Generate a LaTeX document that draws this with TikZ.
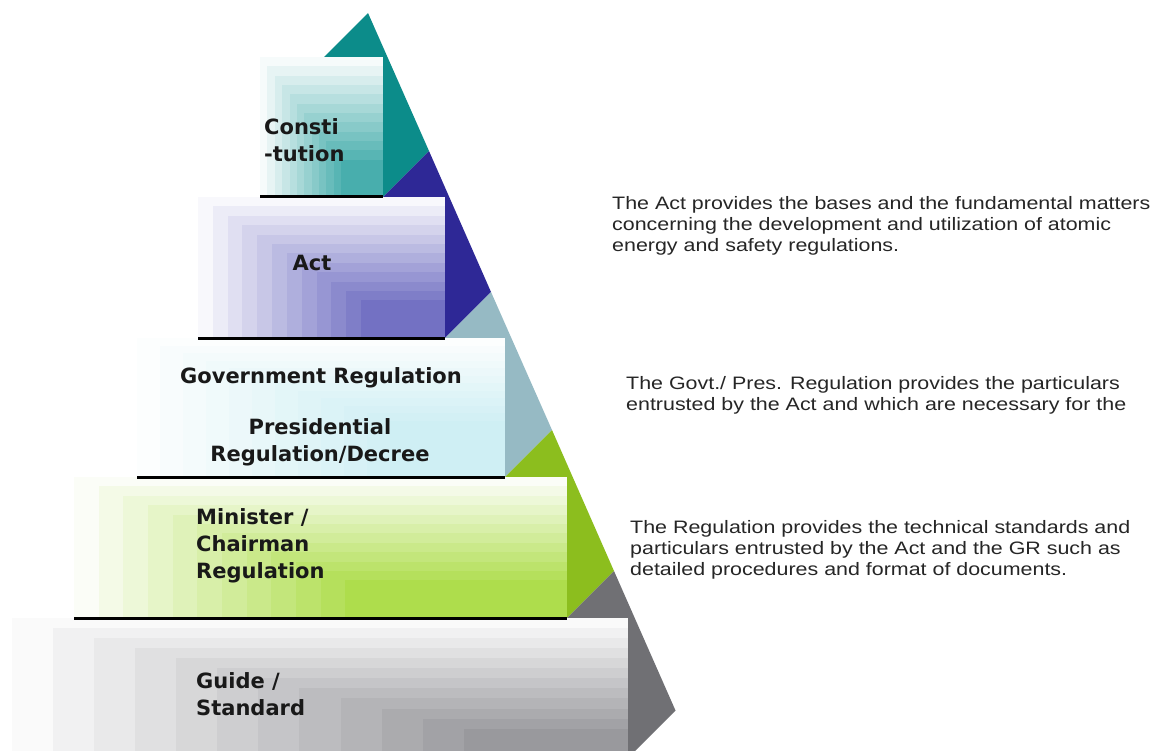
\documentclass[tikz,border=0pt]{standalone}
\usepackage{fontspec}
\setmainfont{Liberation Sans}
\newfontfamily\notefont{Liberation Sans}[FakeStretch=1.19]
\newfontfamily\boxfont{DejaVu Sans}
\definecolor{cteal}{RGB}{12,140,138}
\definecolor{cblue}{RGB}{46,40,150}
\definecolor{cgblue}{RGB}{150,186,196}
\definecolor{cgreen}{RGB}{140,190,30}
\definecolor{cgray}{RGB}{112,112,116}
\definecolor{gteal}{RGB}{40,160,158}
\definecolor{gblue}{RGB}{80,78,180}
\definecolor{gcyan}{RGB}{175,228,236}
\definecolor{ggreen}{RGB}{160,215,45}
\definecolor{ggray}{RGB}{135,135,140}
\newcommand{\nestbox}[8]{%
  \foreach \k in {0,...,11}{%
    \pgfmathsetmacro{\xa}{#1+\k*#7*(#3-#1)/12}%
    \pgfmathsetmacro{\ya}{#2+\k*#8*(#4-#2)/12}%
    \pgfmathsetmacro{\pc}{4+(#6-4)*\k/11}%
    \fill[#5!\pc!white] (\xa,\ya) rectangle (#3,#4);
  }}
\tikzset{
  band/.style={fill=#1, draw=none},
  baseline/.style={line width=3pt, black},
  lvl/.style={font=\boxfont\bfseries\fontsize{21}{27}\selectfont, inner sep=0pt, text=black!90},
  note/.style={font=\notefont\fontsize{18}{21}\selectfont, inner sep=0pt, align=left, anchor=west, text=black!85}
}
\begin{document}
\begin{tikzpicture}[x=1pt,y=-1pt]
\useasboundingbox (0,0) rectangle (1155,751);
\clip (0,0) rectangle (1155,751);
\fill[white] (0,0) rectangle (1155,751);
% pyramid bands
\fill[band=cteal] (368,13) -- (429,151) -- (383,197) -- (290,197) -- (290,91) -- cycle;
\fill[band=cblue] (383,197) -- (429,151) -- (491,292) -- (445,338) -- (383,338) -- cycle;
\fill[band=cgblue] (445,338) -- (491,292) -- (552,430) -- (505,477) -- (445,477) -- cycle;
\fill[band=cgreen] (505,477) -- (552,430) -- (614,571) -- (567,618) -- (505,618) -- cycle;
\fill[band=cgray] (567,618) -- (614,571) -- (675.5,710.5) -- (628,758) -- (567,758) -- cycle;
% boxes
\nestbox{260}{57}{383}{197}{gteal}{85}{0.72}{0.8}
\nestbox{198}{197}{445}{338}{gblue}{80}{0.72}{0.8}
\nestbox{137}{338}{505}{477}{gcyan}{60}{0.75}{0.65}
\nestbox{74}{477}{567}{618}{ggreen}{85}{0.6}{0.8}
\nestbox{12}{618}{628}{760}{ggray}{85}{0.8}{0.85}
% baselines
\draw[baseline] (260,197) -- (383,197);
\draw[baseline] (198,338) -- (445,338);
\draw[baseline] (137,477) -- (505,477);
\draw[baseline] (74,618) -- (567,618);
% labels
\node[lvl, anchor=west, align=left] (const) at (264,140) {Consti\\-tution};
\node[lvl] (act) at (312,263) {Act};
\node[lvl] (gov) at (321,378) {Government Regulation};
\node[lvl, align=center] (pres) at (320,442) {Presidential\\Regulation/Decree};
\node[lvl, anchor=west, align=left] (mins) at (196,546) {Minister /\\Chairman\\Regulation};
\node[lvl, anchor=west, align=left] (guide) at (196,694) {Guide /\\Standard};
% notes
\node[note] (n1) at (612,226) {The Act provides the bases and the fundamental matters\\concerning the  development and utilization of atomic\\energy and safety regulations.};
\node[note] (n2) at (626,395) {The Govt./ Pres. Regulation provides the particulars\\entrusted by the Act and which are necessary for the};
\node[note] (n3) at (630,550) {The Regulation provides the technical standards and\\particulars entrusted by the Act and the GR such as\\detailed procedures and format of documents.};
\end{tikzpicture}
\end{document}
